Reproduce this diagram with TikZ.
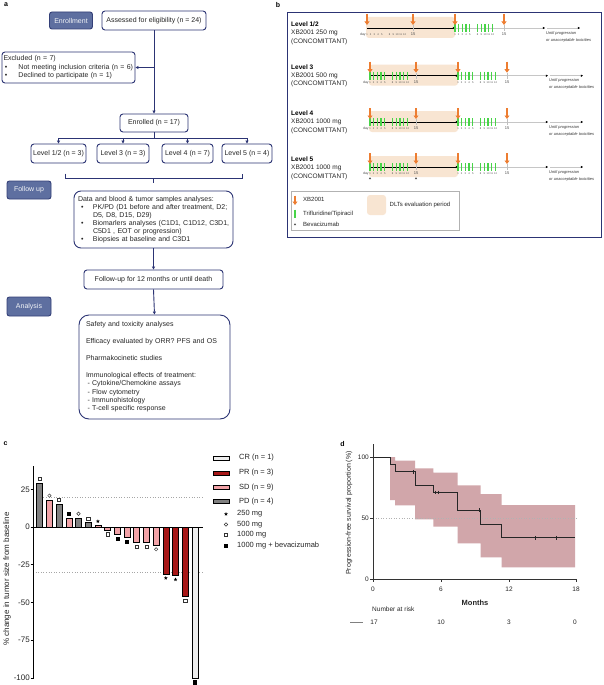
\documentclass[tikz,border=0pt]{standalone}
\usepackage{fontspec}
\setmainfont{Liberation Sans}
\usetikzlibrary{arrows.meta,shapes.geometric}
\definecolor{navy}{RGB}{44,52,116}
\definecolor{navyd}{RGB}{52,64,120}
\definecolor{slate}{RGB}{94,111,160}
\definecolor{orng}{RGB}{237,125,49}
\definecolor{beige}{RGB}{248,229,210}
\definecolor{grn}{RGB}{72,212,72}
\definecolor{colPD}{RGB}{128,128,128}
\definecolor{colSD}{RGB}{242,163,168}
\definecolor{colPR}{RGB}{168,24,24}
\definecolor{colCR}{RGB}{238,238,238}
\definecolor{band}{RGB}{209,166,170}
\newcommand{\fsz}[2]{\fontsize{#1}{#2}\selectfont}
\tikzset{
  fbox/.style={draw=navy, line width=0.9pt, rounded corners=3pt, fill=white, inner sep=1pt, font=\fsz{7}{8.4}, text=black!85},
  sbox/.style={draw=navyd, fill=slate, line width=0.9pt, rounded corners=2.5pt, text=white!92!slate, inner sep=1pt, font=\fsz{7}{8.4}},
  farrow/.style={draw=navy, line width=0.9pt, -{Triangle[length=3pt,width=3pt]}},
  fline/.style={draw=navy, line width=0.9pt},
  plab/.style={font=\bfseries\fsz{7}{8}, inner sep=0},
  lvl/.style={font=\bfseries\fsz{6.5}{7}, inner sep=0, anchor=west},
  lvt/.style={font=\fsz{6.5}{7}, inner sep=0, anchor=west, text=black!85},
  daylab/.style={font=\fsz{3.4}{4}, inner sep=0, text=black!70},
  num/.style={font=\fsz{2.6}{3}, inner sep=0, text=black!70},
  numf/.style={font=\fsz{4}{4.5}, inner sep=0, text=black!70},
  untl/.style={font=\itshape\fsz{4}{4.5}, inner sep=0, anchor=west, text=black!80},
  leg/.style={font=\fsz{6}{7}, inner sep=0, anchor=west, text=black!85},
  otick/.style={orng, line width=1.7pt, -{Triangle[length=3.5pt,width=4.8pt]}},
  gtick/.style={grn, line width=1.35pt},
  tl/.style={font=\fsz{8}{9}, inner sep=0, text=black!85},
  cleg/.style={font=\fsz{7.5}{8.5}, inner sep=0, anchor=west, text=black!85},
  dl/.style={font=\fsz{6.5}{7.5}, inner sep=0, text=black!85},
  msq/.style={draw=black!80, rectangle, minimum size=3.1pt, inner sep=0, line width=0.45pt, fill=white},
  mfsq/.style={draw=black, rectangle, minimum size=3.2pt, inner sep=0, fill=black},
  mci/.style={draw=black!80, circle, minimum size=3.4pt, inner sep=0, line width=0.45pt, fill=white},
  mst/.style={star, star points=5, star point ratio=2.3, fill=black, minimum size=4pt, inner sep=0},
}
% timeline: #1 x0, #2 line y, #3 green in cycle 1, #4 bevacizumab, #5 prefix
\newcommand{\tline}[5]{%
  \fill[beige, rounded corners=3pt] (#1-1,#2-11) rectangle (#1+88,#2+10);
  \draw[gray!45, line width=0.6pt, -{Triangle[length=2.2pt,width=2.2pt,color=black]}] (#1+88,#2) -- (#1+178,#2);
  \draw[gray!45, line width=0.6pt, -{Triangle[length=2.2pt,width=2.2pt,color=black]}] (#1+180,#2) -- (#1+213,#2);
  \draw[black, line width=0.6pt, -{Triangle[length=2.2pt,width=2.2pt]}] (#1,#2) -- (#1+88,#2);
  \foreach \d in {46,137} \draw[gray!50, line width=0.5pt] (#1+\d,#2-3) -- (#1+\d,#2+3);
  \foreach \g in {0,3.7,7.4,11.1,14.8,22.7,26.4,30.1,33.8,37.5} {%
    \ifnum#3=1 \draw[gtick] (#1+\g,#2-4) -- (#1+\g,#2+4);\fi
    \draw[gtick] (#1+88+\g,#2-4) -- (#1+88+\g,#2+4);
  }
  \foreach \a in {0,46,88,137} \draw[otick] (#1+\a,#2-14) -- (#1+\a,#2-3);
  \node[daylab, anchor=east] (#5day) at (#1-1.2,#2+6.5) {day};
  \foreach \g/\n in {0/1,3.7/2,7.4/3,11.1/4,14.8/5,22.7/8,26.4/9,30.1/10,33.8/11,37.5/12} {%
    \node[num] (#5a\n) at (#1+\g,#2+6.5) {\n};
    \node[num] (#5b\n) at (#1+88+\g,#2+6.5) {\n};
  }
  \node[numf] (#5a15) at (#1+46,#2+6.5) {15};
  \node[numf] (#5b15) at (#1+137,#2+6.5) {15};
  \ifnum#4=1
    \foreach \a in {0,46} \fill[black!70] (#1+\a-1.2,#2+12.2) -- (#1+\a+1.2,#2+12.2) -- (#1+\a,#2+10.2) -- cycle;
  \fi
  \node[untl] (#5u1) at (#1+179,#2+5) {Until progression};
  \node[untl] (#5u2) at (#1+179,#2+12) {or unacceptable toxicities};
}
\begin{document}
\begin{tikzpicture}[x=1pt,y=-1pt]
\useasboundingbox (0,0) rectangle (603,685);
\fill[white] (0,0) rectangle (603,685);

% ================= panel a =================
\node[plab] (pa) at (6,5) {a};
\node[sbox, minimum width=43pt, minimum height=17pt] (enr) at (71,20.5) {Enrollment};
\node[fbox, minimum width=104pt, minimum height=19pt] (ass) at (154,20.5) {Assessed for eligibility (n = 24)};
\node[fbox, minimum width=133pt, minimum height=31pt, inner xsep=1.5pt, text width=130pt, align=left] (exc) at (68.5,67.5)
  {\begin{tabular}{@{}p{15pt}@{}l@{}}\multicolumn{2}{@{}l@{}}{Excluded (n = 7)}\\[-0.1pt]
   \hspace{1.5pt}\textbullet & Not meeting inclusion criteria (n = 6)\\[-0.1pt]
   \hspace{1.5pt}\textbullet & Declined to participate (n = 1)\end{tabular}};
\node[fbox, minimum width=68pt, minimum height=18pt] (enl) at (154,123) {Enrolled (n = 17)};
\coordinate (j1) at (154,67.5);
\draw[farrow] (ass.south) -- (enl.north);
\draw[farrow] (j1) -- (exc.east);
\node[fbox, minimum width=55pt, minimum height=19pt] (l12) at (58.5,153.5) {Level 1/2 (n = 3)};
\node[fbox, minimum width=52pt, minimum height=19pt] (l3) at (123,153.5) {Level 3 (n = 3)};
\node[fbox, minimum width=51pt, minimum height=19pt] (l4) at (187.5,153.5) {Level 4 (n = 7)};
\node[fbox, minimum width=50pt, minimum height=19pt] (l5) at (247,153.5) {Level 5 (n = 4)};
\coordinate (s0) at (154,138);
\coordinate (s1) at (58.5,138);
\coordinate (s3) at (123,138);
\coordinate (s4) at (187.5,138);
\coordinate (s5) at (247,138);
\draw[fline] (enl.south) -- (s0);
\draw[fline] (s1) -- (s5);
\draw[farrow] (s1) -- (l12.north);
\draw[farrow] (s3) -- (l3.north);
\draw[farrow] (s4) -- (l4.north);
\draw[farrow] (s5) -- (l5.north);
\draw[fline] (65,173.5) -- (65,178) -- (242,178) -- (242,173.5);
\draw[fline] (153.5,178) -- (153.5,182.5);
\node[sbox, minimum width=44pt, minimum height=18pt] (fol) at (29,190) {Follow up};
\node[fbox, rounded corners=7pt, minimum width=159pt, minimum height=57pt, inner xsep=4pt, text width=151pt, align=left] (dat) at (153.5,219.5)
  {\begin{tabular}{@{}p{15pt}@{}l@{}}\multicolumn{2}{@{}l@{}}{Data and blood \& tumor samples analyses:}\\[-0.4pt]
   \hspace{3pt}\textbullet & PK/PD (D1 before and after treatment, D2;\\[-0.4pt]
   & D5, D8, D15, D29)\\[-0.4pt]
   \hspace{3pt}\textbullet & Biomarlers analyses (C1D1, C1D12, C3D1,\\[-0.4pt]
   & C5D1 , EOT or progression)\\[-0.4pt]
   \hspace{3pt}\textbullet & Biopsies at baseline and C3D1\end{tabular}};
\node[fbox, minimum width=139pt, minimum height=19pt] (fup) at (153.5,279.5) {Follow-up for 12 months or until death};
\draw[farrow] (dat.south) -- (fup.north);
\node[sbox, minimum width=44pt, minimum height=19pt] (ana) at (29,306.5) {Analysis};
\node[fbox, rounded corners=10pt, minimum width=151pt, minimum height=104pt, inner xsep=7pt, text width=137pt, align=left] (saf) at (154.5,367)
  {Safety and toxicity analyses\\[8.4pt]
   Efficacy evaluated by ORR? PFS and OS\\[8.4pt]
   Pharmakocinetic studies\\[8.4pt]
   Immunological effects of treatment:\\
   \hspace{1.5pt}- Cytokine/Chemokine assays\\
   \hspace{1.5pt}- Flow cytometry\\
   \hspace{1.5pt}- Immunohistology\\
   \hspace{1.5pt}- T-cell specific response};
\draw[farrow] (fup.south) -- (saf.north);

% ================= panel b =================
\node[plab] (pb) at (278,5) {b};
\draw[navy, line width=1pt] (287,13) rectangle (601.5,237);
\tline{367}{28}{0}{0}{ta}
\tline{370}{75.7}{1}{0}{tb}
\tline{370}{122}{1}{0}{tc}
\tline{370}{167}{1}{1}{td}
\node[lvl] (v1) at (291,24) {Level 1/2};
\node[lvt] (v1a) at (291,33.3) {XB2001 250 mg};
\node[lvt] (v1b) at (291,41.5) {(CONCOMITTANT)};
\node[lvl] (v3) at (291,66.7) {Level 3};
\node[lvt] (v3a) at (291,75.7) {XB2001 500 mg};
\node[lvt] (v3b) at (291,84) {(CONCOMITTANT)};
\node[lvl] (v4) at (291,112.7) {Level 4};
\node[lvt] (v4a) at (291,122.3) {XB2001 1000 mg};
\node[lvt] (v4b) at (291,130.7) {(CONCOMITTANT)};
\node[lvl] (v5) at (291,159) {Level 5};
\node[lvt] (v5a) at (291,168) {XB2001 1000 mg};
\node[lvt] (v5b) at (291,176.5) {(CONCOMITTANT)};
% legend
\draw[gray!60, line width=0.6pt] (291,191) rectangle (459,230);
\draw[otick] (295,195.5) -- (295,205);
\node[leg] (lg1) at (303,199.5) {XB2001};
\draw[gtick] (295,209.5) -- (295,218);
\node[leg] (lg2) at (303,213.5) {Trifluridine/Tipiracil};
\fill[black!70] (293.8,225.2) -- (296.2,225.2) -- (295,223.2) -- cycle;
\node[leg] (lg3) at (303,224.5) {Bevacizumab};
\fill[beige, rounded corners=3pt] (367,195) rectangle (386,215);
\node[leg] (lg4) at (389.5,204.5) {DLTs evaluation period};

% ================= panel c =================
\node[plab] (pc) at (5.5,444) {c};
\draw[gray!70, dotted, line width=0.6pt] (33,496.8) -- (203,496.8);
\draw[gray!70, dotted, line width=0.6pt] (33,572.3) -- (203,572.3);
\foreach \v/\c/\m [count=\k] in {29/colPD/msq,18/colSD/mci,15/colPD/msq,6/colSD/mfsq,6/colPD/mci,3/colPD/msq,1/colSD/mst,-2/colSD/msq,-5/colSD/mfsq,-7/colSD/mfsq,-10/colSD/msq,-10/colSD/msq,-12/colSD/mci,-31/colPR/mst,-32/colPR/mst,-46/colPR/msq,-100/colCR/mfsq} {%
  \pgfmathsetmacro\cx{39.7+(\k-1)*9.7}
  \pgfmathsetmacro\yb{527-1.51*\v}
  \pgfmathsetmacro\ym{\v>0 ? \yb-4.2 : \yb+4.2}
  \filldraw[fill=\c, draw=black, line width=0.6pt] (\cx-3,527) rectangle (\cx+3,\yb);
  \node[\m] (mk\k) at (\cx,\ym) {};
}
\draw[black, line width=0.8pt] (33,466) -- (33,679);
\draw[black, line width=0.8pt] (33,527) -- (203,527);
\foreach \t/\yy in {25/489.25,0/527,-25/564.75,-50/602.5,-75/640.25,-100/678} {%
  \draw[black, line width=0.6pt] (30.5,\yy) -- (33,\yy);
  \node[tl, anchor=east] (ct\t) at (30,\yy) {\t};
}
\node[tl, rotate=90] (cyl) at (7,579) {\% change in tumor size from baseline};
\foreach \c/\t/\yy in {colCR/CR (n = 1)/458,colPR/PR (n = 3)/473,colSD/SD (n = 9)/487.5,colPD/PD (n = 4)/501.5} {%
  \filldraw[fill=\c, draw=black, line width=0.6pt] (213,\yy-2) rectangle (229,\yy+2);
  \node[cleg] at (239,\yy) {\t};
}
\node[mst] (lm1) at (226,514) {};
\node[cleg] (lt1) at (237,514) {250 mg};
\node[mci] (lm2) at (226,524.5) {};
\node[cleg] (lt2) at (237,524.5) {500 mg};
\node[msq] (lm3) at (226,535) {};
\node[cleg] (lt3) at (237,535) {1000 mg};
\node[mfsq] (lm4) at (226,545.5) {};
\node[cleg] (lt4) at (237,545.5) {1000 mg + bevacizumab};

% ================= panel d =================
\node[plab] (pd) at (342.5,444) {d};
\fill[band] (390,457) -- (395,457) -- (395,460.7) -- (415,460.7) -- (415,468.3) -- (433.3,468.3) -- (433.3,472.7) -- (457.7,472.7) -- (457.7,485.3) -- (480.7,485.3) -- (480.7,494) -- (501.7,494) -- (501.7,505) -- (575,505) -- (575,567.3) -- (501.7,567.3) -- (501.7,557.3) -- (480.7,557.3) -- (480.7,543.3) -- (457.7,543.3) -- (457.7,526.7) -- (433.3,526.7) -- (433.3,519.3) -- (415,519.3) -- (415,505.3) -- (395,505.3) -- (395,500) -- (390,500) -- cycle;
\draw[gray!60, dotted, line width=0.6pt] (373,518) -- (576,518);
\draw[black!85, line width=0.8pt] (373,457) -- (390,457) -- (390,464) -- (395,464) -- (395,471.7) -- (415,471.7) -- (415,485.3) -- (433.3,485.3) -- (433.3,492.3) -- (457.7,492.3) -- (457.7,510) -- (480.7,510) -- (480.7,524.3) -- (501.7,524.3) -- (501.7,537.7) -- (575,537.7);
\foreach \x/\y in {413.5/471.7,435.5/492.3,438/492.3,479/510,535/537.7,556.7/537.7}
  \draw[black!85, line width=0.5pt] (\x,\y-1.8) -- (\x,\y+1.8);
\draw[black!80, line width=0.9pt] (373,444) -- (373,579) -- (576,579);
\foreach \p/\yy in {100/457,50/518,0/579} {%
  \draw[black!80, line width=0.7pt] (370,\yy) -- (373,\yy);
  \node[dl, anchor=east] (dy\p) at (369,\yy) {\p};
}
\foreach \m/\xx in {0/373,6/441,12/509,18/576} {%
  \draw[black!80, line width=0.7pt] (\xx,579) -- (\xx,582);
  \node[dl] (dx\m) at (\xx,589) {\m};
}
\node[font=\bfseries\fsz{7.5}{8.5}, inner sep=0, text=black!85] (mon) at (475,603) {Months};
\node[font=\fsz{7}{8}, inner sep=0, rotate=90, text=black!85] (dyl) at (349,513) {Progression-free survival proportion (\%)};
\node[dl, anchor=west] (nar) at (372,609) {Number at risk};
\draw[gray, line width=0.9pt] (350,622) -- (363,622);
\foreach \n/\xx in {17/374,10/441,3/509,0/575}
  \node[dl] (nr\n) at (\xx,622) {\n};
\end{tikzpicture}
\end{document}
